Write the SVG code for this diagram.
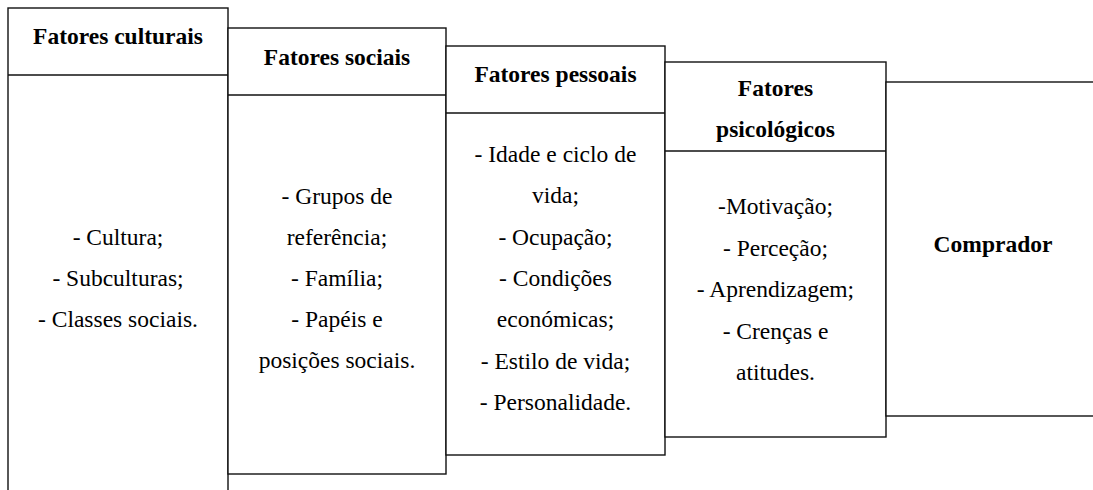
<svg xmlns="http://www.w3.org/2000/svg" width="1093" height="490" viewBox="0 0 1093 490">
<style>
.box{fill:#fff;stroke:#111;stroke-width:1.4}
.ln{stroke:#111;stroke-width:1.4}
text{font-family:"Liberation Serif","Times New Roman",serif;font-size:23.5px;fill:#000;text-anchor:middle}
.h{font-weight:bold}
</style>
<rect width="1093" height="490" fill="#fff"/>
<g id="culturais">
<rect class="box" x="8" y="8" width="220" height="500"/>
<line class="ln" x1="8" y1="75" x2="228" y2="75"/>
<text class="h" x="118" y="44">Fatores culturais</text>
<text x="118" y="245">- Cultura;</text>
<text x="118" y="286">- Subculturas;</text>
<text x="118" y="327">- Classes sociais.</text>
</g>
<g id="sociais">
<rect class="box" x="228" y="28" width="218" height="446"/>
<line class="ln" x1="228" y1="95" x2="446" y2="95"/>
<text class="h" x="337" y="65">Fatores sociais</text>
<text x="337" y="204">- Grupos de</text>
<text x="337" y="245">referência;</text>
<text x="337" y="286">- Família;</text>
<text x="337" y="327">- Papéis e</text>
<text x="337" y="368">posições sociais.</text>
</g>
<g id="pessoais">
<rect class="box" x="446" y="46" width="219" height="409"/>
<line class="ln" x1="446" y1="113" x2="665" y2="113"/>
<text class="h" x="555.5" y="82">Fatores pessoais</text>
<text x="555.5" y="162">- Idade e ciclo de</text>
<text x="555.5" y="203.3">vida;</text>
<text x="555.5" y="244.6">- Ocupação;</text>
<text x="555.5" y="286">- Condições</text>
<text x="555.5" y="327.2">económicas;</text>
<text x="555.5" y="368.5">- Estilo de vida;</text>
<text x="555.5" y="410">- Personalidade.</text>
</g>
<g id="psicologicos">
<rect class="box" x="665" y="62" width="221" height="375"/>
<line class="ln" x1="665" y1="151" x2="886" y2="151"/>
<text class="h" x="775.5" y="96">Fatores</text>
<text class="h" x="775.5" y="137">psicológicos</text>
<text x="775.5" y="214">-Motivação;</text>
<text x="775.5" y="255.5">- Perceção;</text>
<text x="775.5" y="297">- Aprendizagem;</text>
<text x="775.5" y="338.5">- Crenças e</text>
<text x="775.5" y="380">atitudes.</text>
</g>
<g id="comprador">
<rect class="box" x="886" y="82" width="220" height="334"/>
<text class="h" x="993" y="252">Comprador</text>
</g>
<g id="connectors"></g>
</svg>
